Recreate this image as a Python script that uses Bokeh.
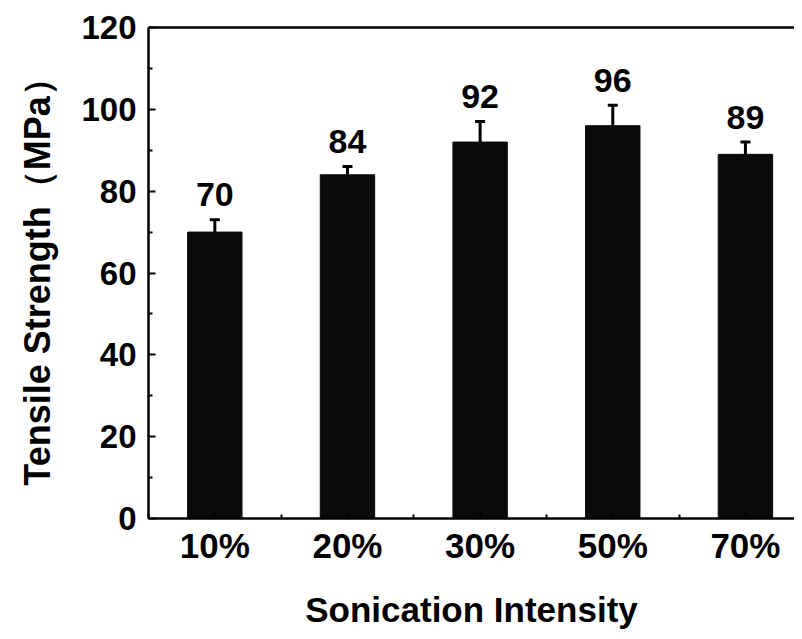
from bokeh.plotting import figure
from bokeh.models import (ColumnDataSource, FixedTicker, LinearAxis,
                          Whisker, TeeHead, LabelSet, Range1d)
from bokeh.core.properties import value
from bokeh.embed import file_html
from bokeh.resources import INLINE

categories = ["10%", "20%", "30%", "50%", "70%"]
strength = [70, 84, 92, 96, 89]
errors = [3, 2, 5, 5, 3]
value_labels = ["70", "84", "92", "96", "89"]
y_ticks = [0, 20, 40, 60, 80, 100, 120]

FONT = "Liberation Sans"
xs = list(range(1, len(categories) + 1))
src = ColumnDataSource(dict(
    x=xs, top=strength, err_top=[s + e for s, e in zip(strength, errors)],
    label=value_labels,
    label_y=[s + e + 3.3 for s, e in zip(strength, errors)],
))

p = figure(width=794, height=631, output_backend="svg", toolbar_location=None,
           x_range=Range1d(0.5, 5.37), y_range=Range1d(0, 120),
           min_border_left=148, min_border_top=27, min_border_bottom=113, min_border_right=0)
p.outline_line_color = None
p.grid.grid_line_color = None
p.background_fill_color = "white"
p.border_fill_color = "white"

p.vbar(x="x", top="top", width=0.41, bottom=0, source=src,
       fill_color="#0a0a0a", line_color="#0a0a0a")

w = Whisker(base="x", upper="err_top", lower="top", source=src, dimension="height",
            line_color="black", line_width=3,
            upper_head=TeeHead(size=10, line_color="black", line_width=3), lower_head=None)
p.add_layout(w)

labels = LabelSet(x="x", y="label_y", text="label", source=src, text_align="center",
                  text_baseline="alphabetic", text_font=value(FONT), text_font_style="bold",
                  text_font_size="34px", text_color="black")
p.add_layout(labels)

# x axis
xa = p.xaxis[0]
xa.ticker = FixedTicker(ticks=xs, minor_ticks=[0.5, 1.5, 2.5, 3.5, 4.5, 5.5])
xa.major_label_overrides = {i: c for i, c in zip(xs, categories)}
xa.axis_label = "Sonication Intensity"

# y axis
ya = p.yaxis[0]
ya.ticker = FixedTicker(ticks=y_ticks, minor_ticks=list(range(10, 120, 20)))
ya.axis_label = "Tensile Strength（MPa）"

for ax in (xa, ya):
    ax.axis_line_width = 2.5
    ax.axis_line_color = "black"
    ax.major_tick_in = 7
    ax.major_tick_out = 0
    ax.minor_tick_in = 4
    ax.minor_tick_out = 0
    ax.major_tick_line_width = 2
    ax.minor_tick_line_width = 2
    ax.major_tick_line_color = "black"
    ax.minor_tick_line_color = "black"
    ax.major_label_text_font = FONT
    ax.major_label_text_font_style = "bold"
    ax.major_label_text_color = "black"
    ax.axis_label_text_font = FONT
    ax.axis_label_text_font_style = "bold"
    ax.axis_label_text_color = "black"
    ax.axis_label_text_font_size = "36px"

xa.major_label_text_font_size = "35px"
xa.major_label_standoff = 7
xa.axis_label_standoff = 22
xa.axis_label_text_font_size = "35px"
ya.major_label_text_font_size = "33px"
ya.major_label_standoff = 12
ya.axis_label_standoff = 20

top_axis = LinearAxis(axis_line_width=2.5, axis_line_color="black",
                      major_tick_line_color=None, minor_tick_line_color=None,
                      major_label_text_font_size="0px", major_label_standoff=0,
                      ticker=FixedTicker(ticks=[]))
p.add_layout(top_axis, "above")

open("out.html", "w").write(file_html(p, INLINE))
